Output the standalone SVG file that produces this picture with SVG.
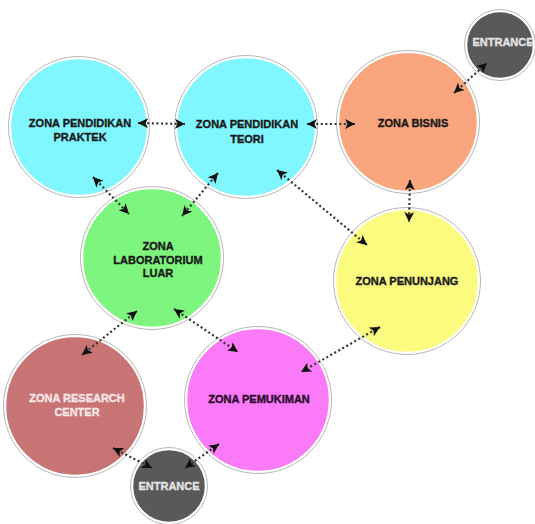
<svg xmlns="http://www.w3.org/2000/svg" width="535" height="524" viewBox="0 0 535 524">
<defs>
<style>
.ring{stroke:#ffffff;stroke-width:2.5}
.edge{fill:none;stroke:#b8b8b8;stroke-width:1}
.t{font-family:"Liberation Sans",Arial,sans-serif;font-weight:bold;font-size:11px;text-anchor:middle;fill:#1a1a1a;stroke:#1a1a1a;stroke-width:0.35}
.w{fill:#f6e8e8;stroke:#f6e8e8}
.g{fill:#e4e4e4;stroke:#e4e4e4}
.p{fill:#2a0a2a;stroke:#2a0a2a}
.c{fill:none;stroke:#333;stroke-width:2.2;stroke-dasharray:2 2.6;marker-start:url(#ah);marker-end:url(#ah)}
</style>
<marker id="ah" viewBox="0 0 10 10" refX="10" refY="5" markerWidth="10" markerHeight="10" markerUnits="userSpaceOnUse" orient="auto-start-reverse">
<path d="M0,0 L10,5 L0,10 L2.5,5z" fill="#111"/>
</marker>
</defs>
<rect width="535" height="524" fill="#ffffff"/>

<g id="praktek">
<circle cx="79" cy="127" r="69" fill="#80F7FF" class="ring"/>
<circle cx="79" cy="127" r="70.5" class="edge"/>
<text class="t" x="80" y="127">ZONA PENDIDIKAN</text>
<text class="t" x="80" y="141">PRAKTEK</text>
</g>

<g id="teori">
<circle cx="246" cy="127" r="70" fill="#80F7FF" class="ring"/>
<circle cx="246" cy="127" r="71.5" class="edge"/>
<text class="t" x="247" y="128">ZONA PENDIDIKAN</text>
<text class="t" x="247" y="143">TEORI</text>
</g>

<g id="bisnis">
<circle cx="408" cy="122" r="70" fill="#F9A57D" class="ring"/>
<circle cx="408" cy="122" r="71.5" class="edge"/>
<text class="t" x="413" y="127">ZONA BISNIS</text>
</g>

<g id="entrance-top">
<circle cx="500" cy="45" r="34" fill="#595959" class="ring"/>
<circle cx="500" cy="45" r="35.5" class="edge"/>
<text class="t g" x="503" y="46">ENTRANCE</text>
</g>

<g id="lab">
<circle cx="152" cy="258" r="70" fill="#7EF57E" class="ring"/>
<circle cx="152" cy="258" r="71.5" class="edge"/>
<text class="t" x="158" y="250">ZONA</text>
<text class="t" x="158" y="264">LABORATORIUM</text>
<text class="t" x="158" y="277">LUAR</text>
</g>

<g id="penunjang">
<circle cx="407" cy="281" r="72" fill="#FBFB80" class="ring"/>
<circle cx="407" cy="281" r="73.5" class="edge"/>
<text class="t" x="407" y="285">ZONA PENUNJANG</text>
</g>

<g id="research">
<circle cx="75" cy="406" r="70" fill="#C87474" class="ring"/>
<circle cx="75" cy="406" r="71.5" class="edge"/>
<text class="t w" x="77" y="402">ZONA RESEARCH</text>
<text class="t w" x="77" y="416">CENTER</text>
</g>

<g id="pemukiman">
<circle cx="258" cy="400" r="72" fill="#FA7AF8" class="ring"/>
<circle cx="258" cy="400" r="73.5" class="edge"/>
<text class="t p" x="259" y="403">ZONA PEMUKIMAN</text>
</g>

<g id="entrance-bottom">
<circle cx="169" cy="486" r="37" fill="#595959" class="ring"/>
<circle cx="169" cy="486" r="38.5" class="edge"/>
<text class="t g" x="169" y="490">ENTRANCE</text>
</g>

<g id="connectors">
<line class="c" x1="138" y1="123" x2="185" y2="124"/>
<line class="c" x1="307" y1="124" x2="355" y2="124"/>
<line class="c" x1="454" y1="93" x2="487" y2="63"/>
<line class="c" x1="410" y1="180" x2="409" y2="222"/>
<line class="c" x1="277" y1="170" x2="367" y2="245"/>
<line class="c" x1="93" y1="177" x2="129" y2="214"/>
<line class="c" x1="218" y1="173" x2="182" y2="216"/>
<line class="c" x1="137" y1="311" x2="82" y2="355"/>
<line class="c" x1="174" y1="309" x2="238" y2="352"/>
<line class="c" x1="380" y1="327" x2="301" y2="372"/>
<line class="c" x1="113" y1="448" x2="152" y2="468"/>
<line class="c" x1="219" y1="444" x2="185" y2="468"/>
</g>
</svg>
